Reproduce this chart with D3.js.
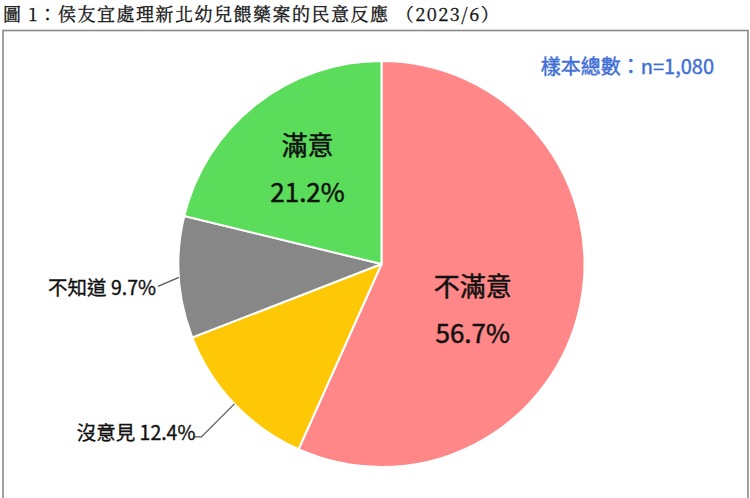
<!DOCTYPE html>
<html><head><meta charset="utf-8">
<script src="https://cdn.jsdelivr.net/npm/d3@7"></script>
<style>
html,body{margin:0;padding:0;background:#fff;}
svg{display:block;}
</style></head>
<body>
<svg id="chart" width="750" height="498"></svg>
<script>
const categories = ["不滿意", "沒意見", "不知道", "滿意"];
const values = [56.7, 12.4, 9.7, 21.2];
const colors = ["#FF8787", "#FFC806", "#878787", "#5BDD5B"];
const title = "圖 1：侯友宜處理新北幼兒餵藥案的民意反應 （2023/6）";
const sampleNote = "樣本總數：n=1,080";

const svg = d3.select("#chart");
const cx = 381.5, cy = 264, R = 203;
const sans = "'Noto Sans CJK TC','Noto Sans CJK SC',sans-serif";

// title
svg.append("text").attr("x", 3).attr("y", 21)
  .attr("font-family", "'Noto Serif CJK TC','AR PL UMing TW','Liberation Serif',serif")
  .attr("font-size", 18).attr("fill", "#111").attr("letter-spacing", 1.5)
  .attr("stroke", "#111").attr("stroke-width", 0.3)
  .text(title);

// frame
svg.append("rect").attr("x", 3).attr("y", 30.5).attr("width", 745).attr("height", 500)
  .attr("fill", "none").attr("stroke", "#8a8a8a").attr("stroke-width", 1.6);

// sample note
svg.append("text").attr("x", 714).attr("y", 74).attr("text-anchor", "end")
  .attr("font-family", sans).attr("font-size", 20).attr("fill", "#3F6FD6")
  .attr("stroke", "#3F6FD6").attr("stroke-width", 0.45)
  .text(sampleNote);

const data = categories.map((c, i) => ({cat: c, val: values[i], color: colors[i]}));
const pie = d3.pie().value(d => d.val).sort(null);
const arcs = pie(data);
const arc = d3.arc().innerRadius(0).outerRadius(R);

const g = svg.append("g").attr("transform", `translate(${cx},${cy})`);
g.selectAll("path").data(arcs).join("path")
  .attr("d", arc).attr("fill", d => d.data.color)
  .attr("stroke", "#fff").attr("stroke-width", 2).attr("stroke-linejoin", "round");

const fmt = v => v.toFixed(1) + "%";

function label(sel, x, y, size, anchor, txt) {
  return sel.append("text").attr("x", x).attr("y", y).attr("text-anchor", anchor)
    .attr("font-family", sans).attr("font-size", size).attr("fill", "#111")
    .attr("stroke", "#111").attr("stroke-width", 0.5)
    .text(txt);
}

// inside labels (big slices)
const inner = d3.arc().innerRadius(R * 0.55).outerRadius(R * 0.55);
arcs.forEach(a => {
  if (a.data.val < 15) return;
  const [x, y] = inner.centroid(a);
  let dx = 0, dy = 0;
  if (a.data.cat === "滿意") { dx = -5; dy = -10; }
  if (a.data.cat === "不滿意") { dx = -18; dy = 20; }
  const t = g.append("g").attr("transform", `translate(${x + dx},${y + dy})`);
  label(t, 0, -11, 26, "middle", a.data.cat);
  label(t, 0, 36, 26, "middle", fmt(a.data.val));
});

// outside labels (small slices) with leader lines
const edge = d3.arc().innerRadius(R).outerRadius(R);
arcs.forEach(a => {
  if (a.data.val >= 15) return;
  const [ex, ey] = edge.centroid(a);
  let pts, tx, ty;
  if (a.data.cat === "不知道") {
    pts = [[ex, ey], [ex - 21, ey + 9]];
    tx = ex - 23; ty = ey + 18;
  } else {
    pts = [[ex, ey], [ex - 33, ey + 33], [ex - 41, ey + 33]];
    tx = ex - 39; ty = ey + 36;
  }
  g.append("path").attr("d", d3.line()(pts)).attr("fill", "none")
    .attr("stroke", "#555").attr("stroke-width", 1.2);
  label(g, tx, ty, 19.5, "end", a.data.cat + " " + fmt(a.data.val)).attr("stroke-width", 0.35);
});
</script>
</body></html>
